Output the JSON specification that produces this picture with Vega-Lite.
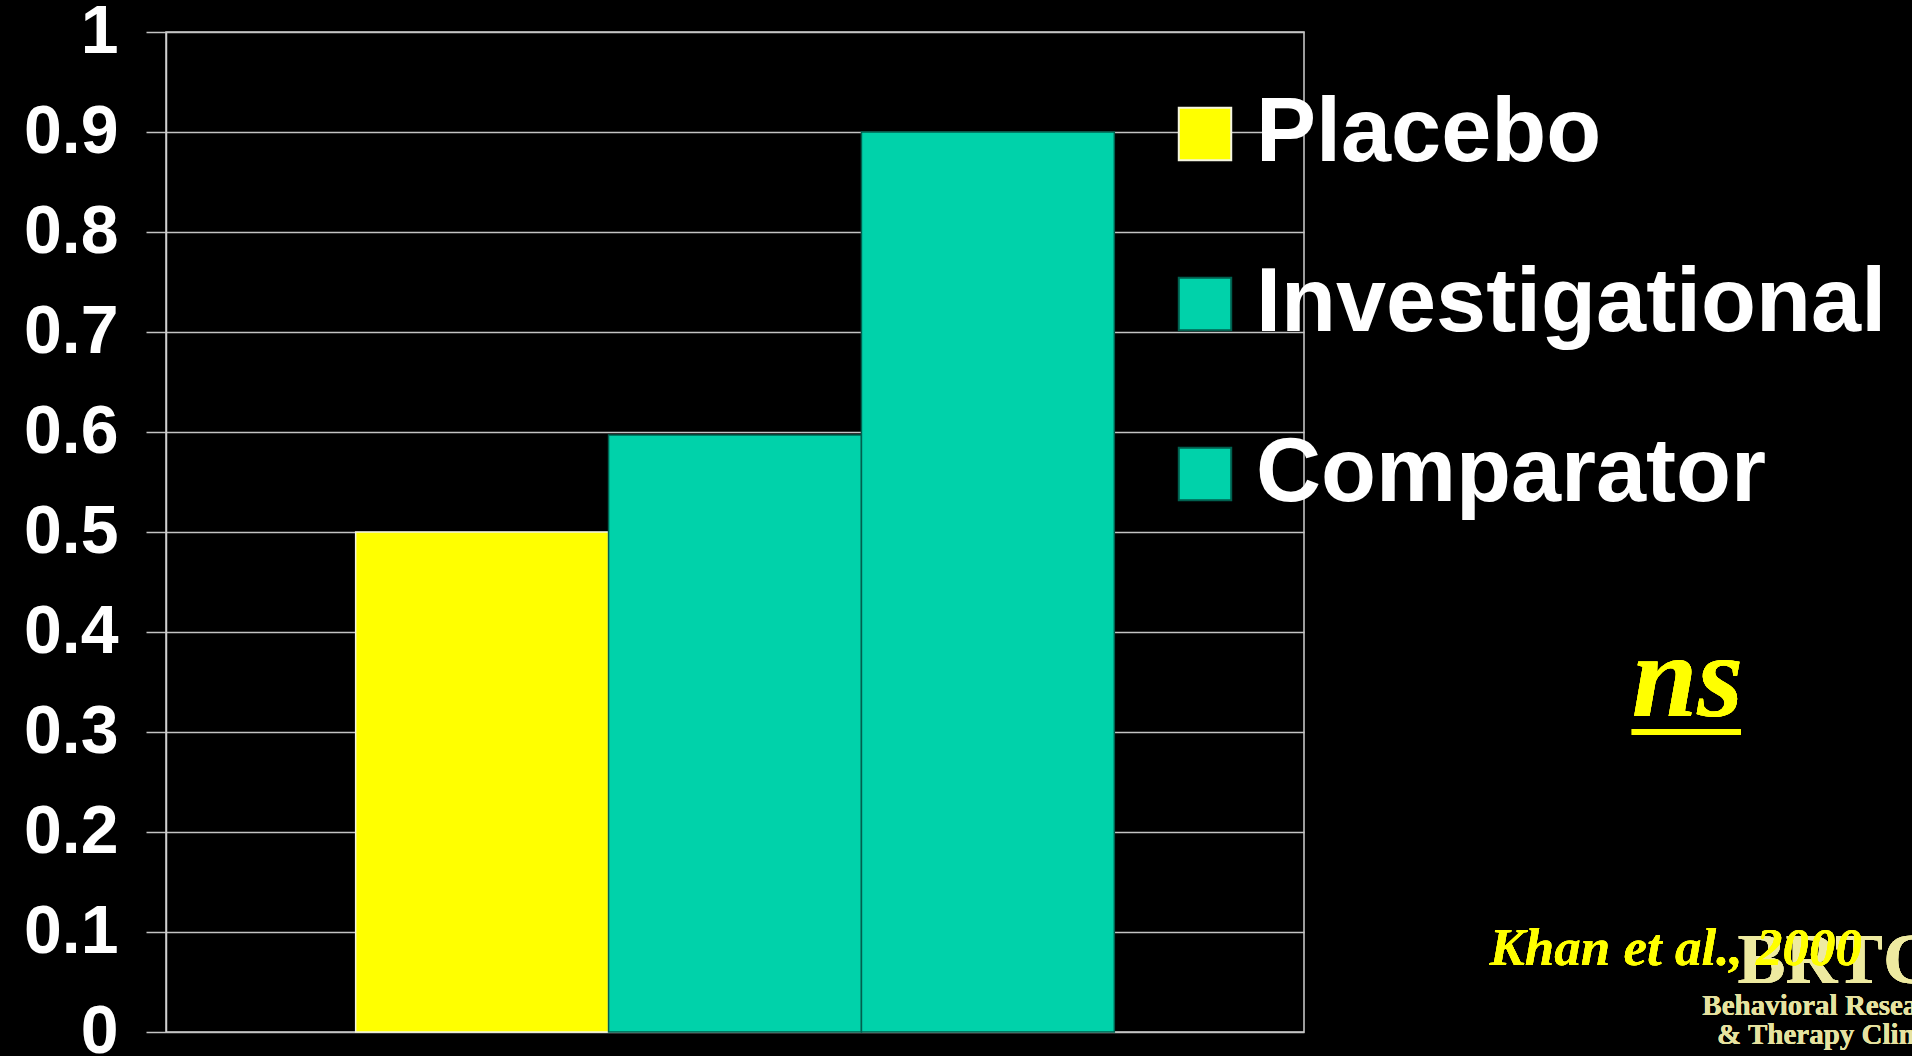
{
  "$schema": "https://vega.github.io/schema/vega-lite/v6.json",
  "autosize": {"type": "none"},
  "padding": {"left": 166, "top": 32, "right": 608, "bottom": 24},
  "width": 1138,
  "height": 1000,
  "background": "#000000",
  "config": {
    "view": {"stroke": "#d0d0d0", "strokeWidth": 1.5},
    "font": "Liberation Sans"
  },
  "data": {
    "values": [
      {"drug": "Placebo", "value": 0.5},
      {"drug": "Investigational", "value": 0.597},
      {"drug": "Comparator", "value": 0.9}
    ]
  },
  "layer": [
    {
      "mark": {"type": "bar", "strokeWidth": 1.5},
      "encoding": {
        "x": {
          "field": "drug",
          "type": "nominal",
          "sort": ["Placebo", "Investigational", "Comparator"],
          "scale": {"paddingInner": 0, "paddingOuter": 0.75},
          "axis": null
        },
        "y": {
          "field": "value",
          "type": "quantitative",
          "scale": {"domain": [0, 1], "nice": false},
          "axis": {
            "values": [0, 0.1, 0.2, 0.3, 0.4, 0.5, 0.6, 0.7, 0.8, 0.9, 1],
            "format": ".1~f",
            "title": null,
            "grid": true,
            "gridColor": "#c4c4c4",
            "gridWidth": 1.5,
            "domainColor": "#d0d0d0",
            "domainWidth": 1.5,
            "tickColor": "#c4c4c4",
            "tickWidth": 1.5,
            "tickSize": 20,
            "labelPadding": 28,
            "labelFont": "Liberation Sans",
            "labelFontSize": 68,
            "labelFontWeight": "bold",
            "labelColor": "#ffffff",
            "labelFlush": false,
            "labelOverlap": false
          }
        },
        "color": {
          "field": "drug",
          "type": "nominal",
          "sort": ["Placebo", "Investigational", "Comparator"],
          "scale": {"domain": ["Placebo", "Investigational", "Comparator"], "range": ["#ffff00", "#00d2aa", "#00d2aa"]},
          "legend": {
            "orient": "none",
            "legendX": 994,
            "legendY": 57,
            "title": null,
            "symbolType": "square",
            "symbolSize": 2750,
            "symbolStrokeWidth": 2,
            "symbolOpacity": 1,
            "labelFont": "Liberation Sans",
            "labelFontSize": 90,
            "labelFontWeight": "bold",
            "labelColor": "#ffffff",
            "labelOffset": 6,
            "labelLimit": 1000,
            "rowPadding": 80
          }
        },
        "stroke": {
          "field": "drug",
          "type": "nominal",
          "sort": ["Placebo", "Investigational", "Comparator"],
          "scale": {"domain": ["Placebo", "Investigational", "Comparator"], "range": ["#f4f4e0", "#00604f", "#00604f"]},
          "legend": null
        }
      }
    },
    {
      "encoding": {
        "x": {"type": "quantitative", "scale": {"domain": [0, 1], "nice": false, "zero": false}, "axis": null},
        "y": {"type": "quantitative", "scale": {"domain": [0, 1], "nice": false, "zero": false}, "axis": null}
      },
      "layer": [
        {
          "mark": {"type": "text", "align": "left", "baseline": "alphabetic", "font": "Liberation Serif", "fontWeight": "bold", "fontSize": 72, "color": "#eeeaa0"},
          "encoding": {"x": {"datum": 1.381, "type": "quantitative"}, "y": {"datum": 0.049, "type": "quantitative"}, "text": {"value": "BRTC"}}
        },
        {
          "mark": {"type": "text", "align": "left", "baseline": "alphabetic", "font": "Liberation Serif", "fontWeight": "bold", "fontSize": 29, "color": "#e6e2a0"},
          "encoding": {"x": {"datum": 1.35, "type": "quantitative"}, "y": {"datum": 0.017, "type": "quantitative"}, "text": {"value": "Behavioral Research"}}
        },
        {
          "mark": {"type": "text", "align": "left", "baseline": "alphabetic", "font": "Liberation Serif", "fontWeight": "bold", "fontSize": 29, "color": "#e6e2a0"},
          "encoding": {"x": {"datum": 1.363, "type": "quantitative"}, "y": {"datum": -0.012, "type": "quantitative"}, "text": {"value": "& Therapy Clinic"}}
        },
        {
          "mark": {"type": "text", "align": "left", "baseline": "alphabetic", "font": "Liberation Serif", "fontStyle": "italic", "fontWeight": "bold", "fontSize": 53, "color": "#ffff00"},
          "encoding": {"x": {"datum": 1.163, "type": "quantitative"}, "y": {"datum": 0.067, "type": "quantitative"}, "text": {"value": "Khan et al., 2000"}}
        },
        {
          "mark": {"type": "text", "align": "left", "baseline": "alphabetic", "font": "Liberation Serif", "fontStyle": "italic", "fontWeight": "bold", "fontSize": 118, "color": "#ffff00"},
          "encoding": {"x": {"datum": 1.288, "type": "quantitative"}, "y": {"datum": 0.316, "type": "quantitative"}, "text": {"value": "ns"}}
        },
        {
          "mark": {"type": "rule", "color": "#ffff00", "strokeWidth": 6},
          "encoding": {"x": {"datum": 1.288, "type": "quantitative"}, "x2": {"datum": 1.384}, "y": {"datum": 0.3, "type": "quantitative"}}
        }
      ]
    }
  ],
  "resolve": {"scale": {"x": "independent", "y": "independent"}}
}
